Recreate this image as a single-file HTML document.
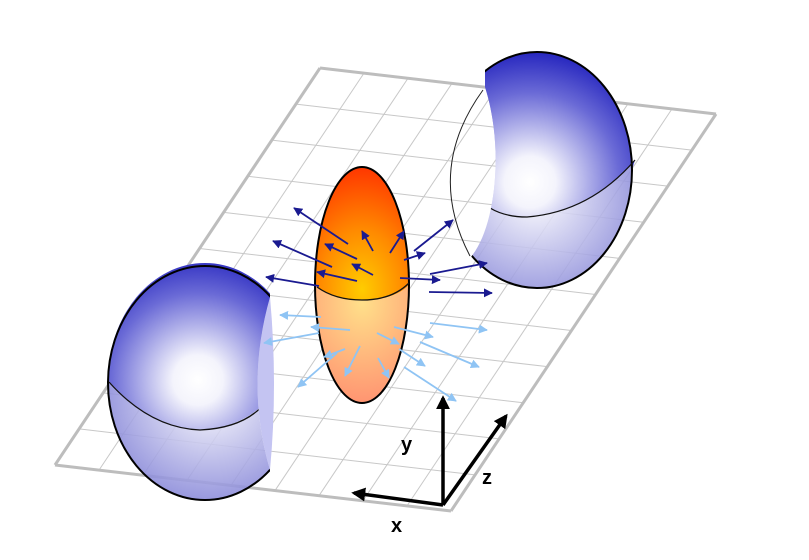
<!DOCTYPE html>
<html><head><meta charset="utf-8"><style>
html,body{margin:0;padding:0;background:#fff;width:809px;height:560px;overflow:hidden}
svg{display:block}
text{font-family:"Liberation Sans",sans-serif;font-weight:bold;font-size:20px}
</style></head><body>
<svg id="fig" width="809" height="560" viewBox="0 0 809 560">
<defs>
<radialGradient id="blueTopL" gradientUnits="userSpaceOnUse" cx="198" cy="380" r="125">
<stop offset="0" stop-color="#ffffff"/><stop offset="0.2" stop-color="#f4f4fc"/><stop offset="0.7" stop-color="#6a6ad6"/><stop offset="1" stop-color="#2a2ac0"/>
</radialGradient>
<radialGradient id="blueTopR" gradientUnits="userSpaceOnUse" cx="530" cy="182" r="128">
<stop offset="0" stop-color="#ffffff"/><stop offset="0.2" stop-color="#f4f4fc"/><stop offset="0.7" stop-color="#6a6ad6"/><stop offset="1" stop-color="#2a2ac0"/>
</radialGradient>
<radialGradient id="blueBotL" gradientUnits="userSpaceOnUse" cx="210" cy="395" r="120">
<stop offset="0" stop-color="#ffffff"/><stop offset="1" stop-color="#7a7ad4"/>
</radialGradient>
<radialGradient id="blueBotR" gradientUnits="userSpaceOnUse" cx="535" cy="195" r="120">
<stop offset="0" stop-color="#ffffff"/><stop offset="1" stop-color="#7a7ad4"/>
</radialGradient>
<radialGradient id="orangeTop" cx="0.5" cy="0.92" r="0.9">
<stop offset="0" stop-color="#ffcc00"/><stop offset="0.5" stop-color="#ff8a00"/><stop offset="1" stop-color="#ff3a00"/>
</radialGradient>
<radialGradient id="orangeBot" cx="0.5" cy="0.15" r="0.9">
<stop offset="0" stop-color="#ffe08a"/><stop offset="1" stop-color="#ff9070"/>
</radialGradient>
<marker id="ahDark" viewBox="0 0 10 10" refX="9" refY="5" markerWidth="5" markerHeight="5" orient="auto"><path d="M0,0L10,5L0,10z" fill="#1a1a90"/></marker>
<marker id="ahLight" viewBox="0 0 10 10" refX="9" refY="5" markerWidth="5" markerHeight="5" orient="auto"><path d="M0,0L10,5L0,10z" fill="#8fc4f4"/></marker>
<marker id="ahBlack" viewBox="0 0 10 10" refX="8" refY="5" markerWidth="4" markerHeight="4" orient="auto"><path d="M0,0L10,5L0,10z" fill="#000"/></marker>
<clipPath id="clipL"><path d="M0,0 L270,0 L270,297 Q245,385 270,470 L270,560 L0,560z"/></clipPath>
<clipPath id="clipR"><path d="M485,0 L809,0 L809,560 L470,560 L470,258 C495,230 505,150 485,87z"/></clipPath>
</defs>
<g id="grid"></g>
<g>
<path d="M270,297 Q245,385 270,470 Q278,385 270,297z" fill="#c4c4f2"/>
<g clip-path="url(#clipL)">
<ellipse cx="205" cy="383" rx="97" ry="117" fill="url(#blueBotL)" opacity="0.88"/>
<path d="M108,380 A97,117 0 0 1 302,380 L302,395 L266,402 Q240,428 200,430 Q150,428 108,380z" fill="url(#blueTopL)"/>
<ellipse cx="205" cy="383" rx="97" ry="117" fill="none" stroke="#000" stroke-width="2"/>
<path d="M109,382 Q150,428 200,430 Q245,428 266,402" fill="none" stroke="#111" stroke-width="1.3"/>
</g>
</g>
<g>
<path d="M483,90 Q425,170 470,256" fill="none" stroke="#222" stroke-width="1"/>
<g clip-path="url(#clipR)">
<ellipse cx="537" cy="170" rx="95" ry="118" fill="url(#blueBotR)" opacity="0.88"/>
<path d="M442,170 A95,118 0 0 1 632,170 L635,160 Q590,212 527,217 Q505,216 490,208 L442,208z" fill="url(#blueTopR)"/>
<ellipse cx="537" cy="170" rx="95" ry="118" fill="none" stroke="#000" stroke-width="2"/>
<path d="M490,208 Q505,217 527,217 Q590,212 635,160" fill="none" stroke="#111" stroke-width="1.3"/>
</g>
</g>
<g>
<path d="M315,285 A47,118 0 0 1 409,285 Q395,300 362,300 Q330,300 315,285z" fill="url(#orangeTop)"/>
<path d="M315,285 Q330,300 362,300 Q395,300 409,285 A47,118 0 0 1 315,285z" fill="url(#orangeBot)"/>
<ellipse cx="362" cy="285" rx="47" ry="118" fill="none" stroke="#000" stroke-width="2"/>
<path d="M317,287 Q335,300 362,300 Q392,300 409,283" fill="none" stroke="#111" stroke-width="1.3"/>
</g>
<g id="arrows"></g>
<g>
<line x1="443" y1="505" x2="443" y2="398" stroke="#000" stroke-width="3.5" marker-end="url(#ahBlack)"/>
<line x1="443" y1="505" x2="354" y2="493" stroke="#000" stroke-width="3.5" marker-end="url(#ahBlack)"/>
<line x1="443" y1="505" x2="506" y2="416" stroke="#000" stroke-width="3.5" marker-end="url(#ahBlack)"/>
<text x="401" y="451">y</text>
<text x="482" y="484">z</text>
<text x="391" y="532">x</text>
</g>
</svg>
<script>
const NS='http://www.w3.org/2000/svg';
const darkArrows=[[348,244,294,208],[357,259,325,244],[373,251,362,231],[390,253,404,231],[414,251,453,220],[332,267,273,241],[373,275,352,264],[357,281,317,272],[404,260,425,253],[319,286,266,277],[400,278,440,280],[430,274,487,263],[429,292,492,293]];
const lightArrows=[[321,317,280,315],[350,330,311,327],[319,333,264,343],[430,323,487,330],[394,327,433,337],[377,333,399,344],[420,342,479,367],[399,349,425,366],[345,349,324,357],[360,346,345,376],[378,358,389,378],[337,353,298,387],[404,367,456,401]];
const gridCols=9;
const gridRows=11;
const P0=[320,68],P1=[716,114],P3=[55,465];
function pt(u,v){return [P0[0]+u*(P1[0]-P0[0])+v*(P3[0]-P0[0]),P0[1]+u*(P1[1]-P0[1])+v*(P3[1]-P0[1])];}
const grid=document.getElementById('grid');
function gl(a,b,w,c){const l=document.createElementNS(NS,'line');l.setAttribute('x1',a[0]);l.setAttribute('y1',a[1]);l.setAttribute('x2',b[0]);l.setAttribute('y2',b[1]);l.setAttribute('stroke',c);l.setAttribute('stroke-width',w);


grid.appendChild(l);}
for(let i=1;i<gridCols;i++)gl(pt(i/gridCols,0),pt(i/gridCols,1),1,'#c8c8c8');
for(let j=1;j<gridRows;j++)gl(pt(0,j/gridRows),pt(1,j/gridRows),1,'#c8c8c8');
gl(pt(0,0),pt(1,0),3,'#bdbdbd');gl(pt(1,0),pt(1,1),3,'#bdbdbd');gl(pt(1,1),pt(0,1),3,'#bdbdbd');gl(pt(0,1),pt(0,0),3,'#bdbdbd');
const ag=document.getElementById('arrows');
function arr(a,col,mk,name){const l=document.createElementNS(NS,'line');l.setAttribute('x1',a[0]);l.setAttribute('y1',a[1]);l.setAttribute('x2',a[2]);l.setAttribute('y2',a[3]);l.setAttribute('stroke',col);l.setAttribute('stroke-width',1.8);l.setAttribute('marker-end','url(#'+mk+')');


ag.appendChild(l);}
darkArrows.forEach(a=>arr(a,'#1a1a90','ahDark','dark-field-arrow'));
lightArrows.forEach(a=>arr(a,'#8fc4f4','ahLight','light-field-arrow'));
</script>
</body></html>
